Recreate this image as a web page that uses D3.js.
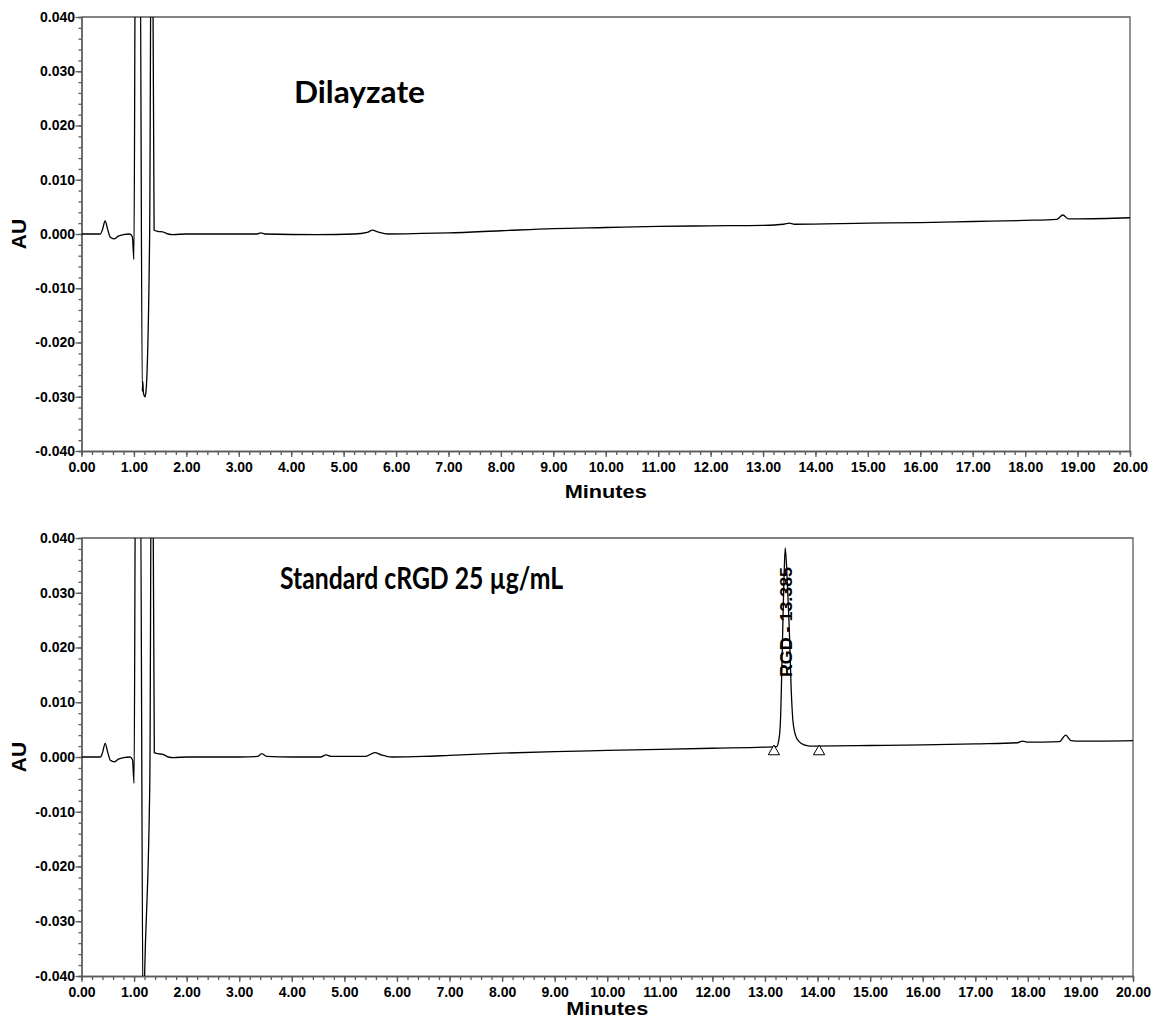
<!doctype html>
<html>
<head>
	<script src="https://d3js.org/d3.v7.min.js"></script>
	<style>
		body { margin: 0; background: #fff; }
		.tick text { font-family: "Liberation Sans", Arial, sans-serif; font-weight: bold; fill: #000; }
		.domain, .tick line { stroke: #5a5a5a; stroke-width: 1.3; }
	</style>
</head>
<body>
	<div id="viz">
		<svg style="width:1153px;height:1021px;"></svg>
	</div>
	<script>
		// chromatogram traces: [minutes, AU]
		var dialyzateTrace = [
			[0.00, 0.0000], [0.36, 0.0000], [0.40, 0.0008], [0.45, 0.0024], [0.50, 0.0008],
			[0.55, -0.0006], [0.62, -0.0009], [0.70, -0.0004], [0.80, -0.0001], [0.92, 0.0000],
			[0.97, -0.0005], [1.00, -0.0047], [1.03, 0.0600], [1.115, 0.0600], [1.16, -0.0290],
			[1.17, -0.0272], [1.18, -0.0292], [1.21, -0.0300], [1.23, -0.0290], [1.30, 0.0000],
			[1.33, 0.0600], [1.355, 0.0600], [1.385, 0.0007], [1.45, 0.0005], [1.55, 0.0004],
			[1.65, 0.0000], [1.75, -0.0001], [2.00, 0.0000], [3.00, 0.0000], [3.35, 0.0000],
			[3.42, 0.0002], [3.50, 0.0000], [4.50, -0.0001], [5.20, 0.0000], [5.45, 0.0003],
			[5.55, 0.0007], [5.65, 0.0004], [5.85, 0.0000], [6.50, 0.0001], [7.00, 0.0002],
			[8.00, 0.0006], [9.00, 0.0010], [10.00, 0.0012], [11.00, 0.0014], [12.00, 0.0015],
			[13.00, 0.0016], [13.40, 0.0018], [13.50, 0.0020], [13.60, 0.0018], [15.00, 0.0020],
			[16.00, 0.0021], [17.00, 0.0023], [18.00, 0.0025], [18.60, 0.0027], [18.72, 0.0035],
			[18.82, 0.0028], [19.00, 0.0028], [20.00, 0.0030]
		];

		var standardTrace = [
			[0.00, 0.0000], [0.36, 0.0000], [0.40, 0.0008], [0.45, 0.0025], [0.50, 0.0008],
			[0.55, -0.0006], [0.62, -0.0009], [0.70, -0.0004], [0.80, -0.0001], [0.92, 0.0000],
			[0.97, -0.0005], [1.00, -0.0048], [1.03, 0.0600], [1.115, 0.0600], [1.175, -0.0520],
			[1.20, -0.0400], [1.30, -0.0040], [1.33, 0.0600], [1.355, 0.0600], [1.385, 0.0008],
			[1.45, 0.0006], [1.55, 0.0005], [1.65, 0.0000], [1.75, -0.0001], [2.00, 0.0000],
			[3.00, 0.0000], [3.35, 0.0001], [3.43, 0.0006], [3.52, 0.0001], [4.00, 0.0000],
			[4.55, 0.0000], [4.65, 0.0004], [4.75, 0.0001], [5.40, 0.0001], [5.58, 0.0008],
			[5.70, 0.0004], [5.90, 0.0000], [6.50, 0.0001], [7.00, 0.0003], [8.00, 0.0007],
			[9.00, 0.0010], [10.00, 0.0012], [11.00, 0.0014], [12.00, 0.0016], [13.00, 0.0018],
			[13.22, 0.0019], [13.27, 0.0035], [13.30, 0.0080], [13.33, 0.0200], [13.36, 0.0320],
			[13.385, 0.0382], [13.42, 0.0330], [13.46, 0.0240], [13.50, 0.0120], [13.53, 0.0068],
			[13.58, 0.0040], [13.65, 0.0028], [13.75, 0.0022], [13.85, 0.0020], [15.00, 0.0021],
			[16.00, 0.0022], [17.00, 0.0024], [17.80, 0.0026], [17.90, 0.0029], [18.00, 0.0027],
			[18.60, 0.0028], [18.72, 0.0040], [18.82, 0.0030], [19.00, 0.0029], [20.00, 0.0030]
		];

		// peak start / end markers (open triangles) and peak label
		var peakMarkers = [[13.17, 0.0010], [14.03, 0.0010]];
		var peakLabels = [{name: "RGD", rt: 13.385}];

		var xTicks = [0, 1, 2, 3, 4, 5, 6, 7, 8, 9, 10, 11, 12, 13, 14, 15, 16, 17, 18, 19, 20];
		var yTicks = [-0.04, -0.03, -0.02, -0.01, 0, 0.01, 0.02, 0.03, 0.04];
		var titles = ["Dilayzate", "Standard cRGD 25 \u00b5g/mL"];

		dataViz();

		function dataViz() {
			var svg = d3.select("svg");

			var panels = [
				{top: 17, bottom: 451, left: 81.5, right: 1130, trace: dialyzateTrace, title: titles[0],
					titleX: 294, titleY: 103, titleW: 131, labelY: 498, markers: [], labels: []},
				{top: 538, bottom: 976, left: 81.5, right: 1133, trace: standardTrace, title: titles[1],
					titleX: 280, titleY: 589, titleW: 283, labelY: 1015, markers: peakMarkers, labels: peakLabels}
			];

			panels.forEach(function(p, i) {
				var xScale = d3.scaleLinear().domain([0, 20]).range([p.left, p.right]);
				var yScale = d3.scaleLinear().domain([-0.04, 0.04]).range([p.bottom, p.top]);

				var g = svg.append("g");

				g.append("clipPath")
					.attr("id", "clip" + i)
					.append("rect")
						.attr("x", p.left)
						.attr("y", p.top)
						.attr("width", p.right - p.left)
						.attr("height", p.bottom - p.top);

				// minor ticks
				g.append("g")
					.attr("transform", "translate(0," + p.bottom + ")")
					.call(d3.axisBottom(xScale).tickValues(d3.range(0, 20.01, 0.2)).tickSize(4).tickFormat(""));
				g.append("g")
					.attr("transform", "translate(" + p.left + ",0)")
					.call(d3.axisLeft(yScale).tickValues(d3.range(-0.04, 0.0401, 0.002)).tickSize(3).tickFormat(""));

				// major ticks
				var xAxis = g.append("g")
					.attr("transform", "translate(0," + p.bottom + ")")
					.call(d3.axisBottom(xScale).tickValues(xTicks).tickSize(6).tickSizeOuter(0)
						.tickPadding(5).tickFormat(d => d.toFixed(2)));
				xAxis.selectAll(".tick text").style("font-size", "14px");

				var yAxis = g.append("g")
					.attr("transform", "translate(" + p.left + ",0)")
					.call(d3.axisLeft(yScale).tickValues(yTicks).tickSize(6).tickSizeOuter(0)
						.tickPadding(0.5).tickFormat(d => (Math.abs(d) < 1e-9 ? 0 : d).toFixed(3)));
				yAxis.selectAll(".tick text").style("font-size", "14px");

				// frame top and right
				g.append("path")
					.attr("d", "M" + p.left + "," + p.top + "H" + p.right + "V" + p.bottom)
					.attr("fill", "none")
					.attr("stroke", "#5a5a5a")
					.attr("stroke-width", 1.3);

				// trace
				var line = d3.line()
					.x(d => xScale(d[0]))
					.y(d => yScale(d[1]))
					.curve(d3.curveMonotoneX);

				g.append("path")
					.datum(p.trace)
					.attr("clip-path", "url(#clip" + i + ")")
					.attr("d", line)
					.attr("fill", "none")
					.attr("stroke", "#000")
					.attr("stroke-width", 1.3);

				// integration markers
				g.selectAll(".marker")
					.data(p.markers)
					.enter()
					.append("path")
						.attr("class", "marker")
						.attr("d", d3.symbol().type(d3.symbolTriangle).size(55))
						.attr("transform", d => "translate(" + xScale(d[0]) + "," + yScale(d[1]) + ")")
						.attr("fill", "#fff")
						.attr("stroke", "#000")
						.attr("stroke-width", 1);

				// peak labels
				g.selectAll(".peaklabel")
					.data(p.labels)
					.enter()
					.append("text")
						.attr("class", "peaklabel")
						.attr("transform", d => "translate(" + (xScale(d.rt) + 7) + "," + 677 + ") rotate(-90)")
						.attr("textLength", 110)
						.attr("lengthAdjust", "spacingAndGlyphs")
						.style("font-family", "Liberation Sans, Arial, sans-serif")
						.style("font-weight", "bold")
						.style("font-size", "17px")
						.text(d => d.name + " - " + d.rt.toFixed(3));

				// axis titles
				g.append("text")
					.attr("transform", "translate(26," + ((p.top + p.bottom) / 2) + ") rotate(-90)")
					.attr("text-anchor", "middle")
					.style("font-family", "Liberation Sans, Arial, sans-serif")
					.style("font-weight", "bold")
					.style("font-size", "21px")
					.text("AU");

				g.append("text")
					.attr("x", (p.left + p.right) / 2)
					.attr("y", p.labelY)
					.attr("text-anchor", "middle")
					.attr("textLength", 82)
					.attr("lengthAdjust", "spacingAndGlyphs")
					.style("font-family", "Liberation Sans, Arial, sans-serif")
					.style("font-weight", "bold")
					.style("font-size", "18px")
					.text("Minutes");

				// sample title
				g.append("text")
					.attr("x", p.titleX)
					.attr("y", p.titleY)
					.attr("textLength", p.titleW)
					.attr("lengthAdjust", "spacingAndGlyphs")
					.style("font-family", "Lato, Open Sans, sans-serif")
					.style("font-weight", "bold")
					.style("font-size", "30px")
					.text(p.title);
			});
		}
	</script>
</body>
</html>
